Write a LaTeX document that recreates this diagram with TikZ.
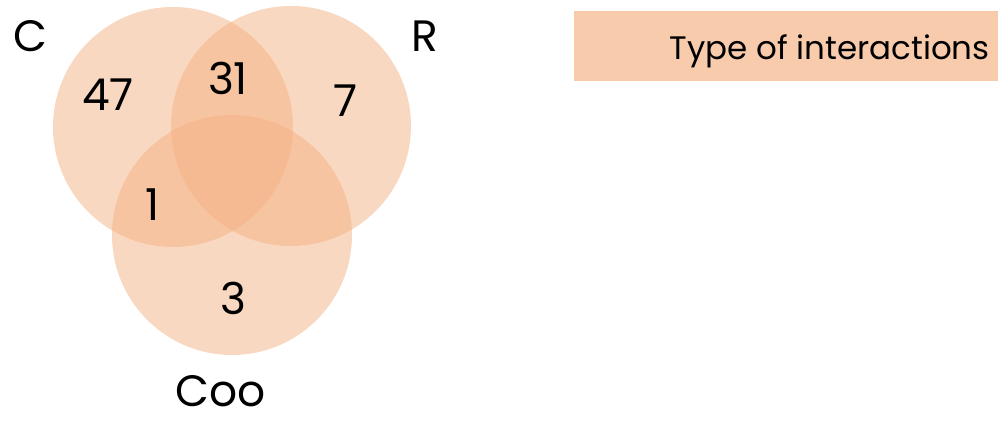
\documentclass[tikz,border=0pt]{standalone}
\usepackage{fontspec}
\setmainfont{Poppins}
\usepackage{tikz}
\definecolor{peach}{HTML}{F4B183}
\definecolor{banner}{HTML}{F8CBAD}

\begin{document}
\begin{tikzpicture}[x=0.02cm, y=-0.02cm,
  set/.style={fill=peach, fill opacity=0.5},
  lbl/.style={anchor=base, inner sep=0pt, font=\fontsize{25}{30}\selectfont}]
\useasboundingbox (0,0) rectangle (998,421);
\coordinate (C) at (173,127);
\coordinate (R) at (291,126);
\coordinate (Coo) at (232,235);
\fill [set] (C) circle [radius=120];
\fill [set] (R) circle [radius=120];
\fill [set] (Coo) circle [radius=120];
% set names
\node (nameC) at (30,52) [lbl] {C};
\node (nameR) at (425,52) [lbl] {R};
\node (nameCoo) at (221,407) [lbl] {Coo};
% counts
\node (onlyC) at (108,111) [lbl] {47};
\node (CR) at (228,95) [lbl] {31};
\node (onlyR) at (345,117) [lbl] {7};
\node (CCoo) at (153,221) [lbl] {1};
\node (onlyCoo) at (233,315) [lbl] {3};
% title bar
\fill [banner] (574,11) rectangle (998,81);
\node (title) at (990,60) [lbl, anchor=base east, font=\fontsize{18.5}{22}\selectfont] {Type of interactions};
\end{tikzpicture}
\end{document}
